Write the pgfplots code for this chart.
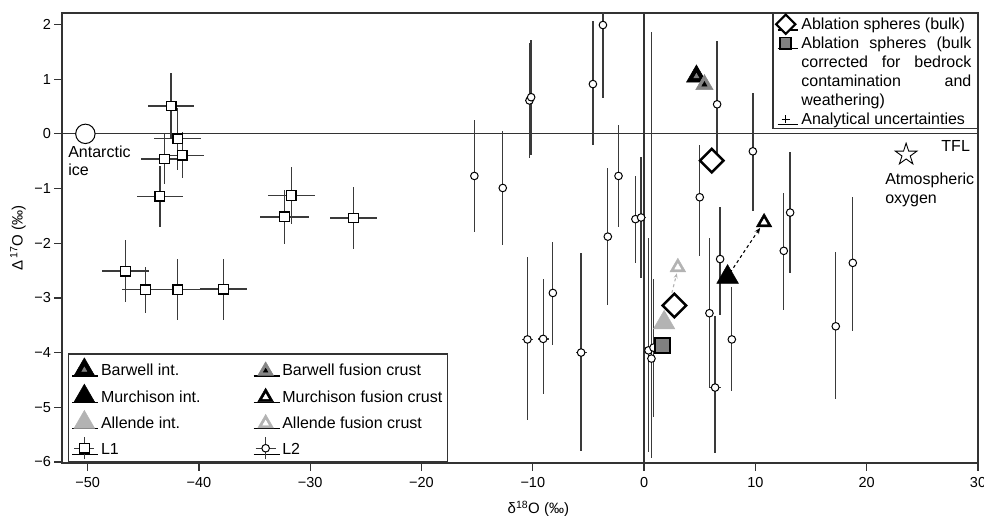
\documentclass[border=0pt]{standalone}
\usepackage{fontspec}
\setmainfont{Liberation Sans}
\usepackage{pgfplots}
\pgfplotsset{compat=1.18}
\usetikzlibrary{arrows.meta}

\definecolor{frame}{HTML}{333333}
\definecolor{bar}{HTML}{3A3A3A}
\definecolor{midgray}{HTML}{858585}
\definecolor{algray}{HTML}{B3B3B3}
\definecolor{sqgray}{HTML}{808080}

% strut: height, depth
\newcommand{\st}[2]{\rule[-#2]{0pt}{\dimexpr #1+#2\relax}}
% first legend column has a fixed width
\newcommand{\lc}[1]{\makebox[150pt][l]{#1}}

% outlined five-pointed star
\pgfdeclareplotmark{ostar}{%
  \pgfpathmoveto{\pgfpointpolar{90}{\pgfplotmarksize}}%
  \pgfpathlineto{\pgfpointpolar{126}{0.382\pgfplotmarksize}}%
  \pgfpathlineto{\pgfpointpolar{162}{\pgfplotmarksize}}%
  \pgfpathlineto{\pgfpointpolar{198}{0.382\pgfplotmarksize}}%
  \pgfpathlineto{\pgfpointpolar{234}{\pgfplotmarksize}}%
  \pgfpathlineto{\pgfpointpolar{270}{0.382\pgfplotmarksize}}%
  \pgfpathlineto{\pgfpointpolar{306}{\pgfplotmarksize}}%
  \pgfpathlineto{\pgfpointpolar{342}{0.382\pgfplotmarksize}}%
  \pgfpathlineto{\pgfpointpolar{18}{\pgfplotmarksize}}%
  \pgfpathlineto{\pgfpointpolar{54}{0.382\pgfplotmarksize}}%
  \pgfpathclose
  \pgfusepathqstroke
}

\pgfplotsset{
  base/.style={
    scale only axis, width=916pt, height=450pt,
    xmin=-52.3, xmax=30, ymin=-6.02, ymax=2.21,
    at={(0pt,0pt)}, anchor=south west,
  },
  ebars/.style={
    error bars/.cd, x dir=both, x explicit, y dir=both, y explicit,
    error mark=none, error bar style={bar, line width=1.3pt},
  },
}

\begin{document}
\begin{tikzpicture}
\begin{axis}[base,
  axis line style={frame, line width=1.3pt},
  tick align=outside, tick pos=left,
  major tick length=7.5pt,
  tick style={frame, line width=1.3pt},
  xtick={-50,-40,...,30},
  xticklabels={−50,−40,−30,−20,−10,0,10,20,30},
  ytick={-6,-5,...,2},
  yticklabels={−6,−5,−4,−3,−2,−1,0,1,2},
  tick label style={font=\fontsize{14.5}{17}\selectfont},
  xticklabel style={yshift=-3pt},
  xlabel={δ\textsuperscript{18}O (‰)},
  ylabel={Δ\,\textsuperscript{17}O (‰)},
  xlabel style={at={(axis description cs:0.52,-0.102)}, anchor=center, font=\fontsize{15}{18}\selectfont},
  ylabel style={at={(axis description cs:-0.048,0.5)}, anchor=center, font=\fontsize{15}{18}\selectfont},
  legend columns=2,
  legend cell align=left,
  legend style={at={(axis description cs:0.0066,0.002)}, anchor=south west,
    draw=frame, line width=1.3pt, inner xsep=3pt, inner ysep=0pt,
    cells={anchor=base west},
    nodes={inner xsep=2pt, inner ysep=0pt, text depth=, text height=, font=\fontsize{16}{19}\selectfont}},
]
% reference lines
\draw[frame, line width=1.3pt] (axis cs:-52.3,0) -- (axis cs:30,0);
\draw[frame, line width=1.3pt] (axis cs:0,-6.02) -- (axis cs:0,2.21);

% L1
\addplot[forget plot, only marks, mark=square*, mark size=4.8pt,
  mark options={fill=white, draw=black, line width=1.3pt}, ebars]
coordinates {
  (-42.5,0.51) +- (2.1,0.6)
  (-41.9,-0.09) +- (2.1,0.57)
  (-41.5,-0.39) +- (2.0,0.42)
  (-43.1,-0.46) +- (2.1,0.45)
  (-43.5,-1.14) +- (2.1,0.56)
  (-31.7,-1.13) +- (2.1,0.52)
  (-32.3,-1.52) +- (2.2,0.5)
  (-26.1,-1.54) +- (2.1,0.57)
  (-46.6,-2.51) +- (2.1,0.56)
  (-44.8,-2.85) +- (2.1,0.42)
  (-41.9,-2.85) +- (2.1,0.56)
  (-37.8,-2.84) +- (2.1,0.56)
};

% L2
\addplot[forget plot, only marks, mark=*, mark size=3.8pt,
  mark options={fill=white, draw=black, line width=1pt}, ebars]
coordinates {
  (-15.25,-0.77) += (0,1.03) -= (0,1.03)
  (-12.7,-0.99) += (0,1.05) -= (0,1.05)
  (-10.3,0.61) += (0,1.05) -= (0,1.05)
  (-10.15,0.67) += (0,1.05) -= (0,1.05)
  (-4.6,0.91) += (0,1.15) -= (0,1.12)
  (-3.7,1.99) += (0,1.33) -= (0,1.33)
  (-2.3,-0.77) += (0,0.94) -= (0,0.94)
  (-3.26,-1.88) += (0,1.25) -= (0,1.25)
  (-0.78,-1.56) += (0,0.78) -= (0,0.8)
  (-0.27,-1.53) += (0.4,1.1) -= (0.4,1.1)
  (-10.48,-3.76) += (0.5,1.5) -= (0.5,1.47)
  (-9.07,-3.75) += (0.5,1.1) -= (0.5,1.0)
  (-8.2,-2.91) += (0,0.94) -= (0,0.96)
  (-5.66,-4.0) += (0.5,1.82) -= (0.5,1.8)
  (0.66,-4.11) += (0,5.98) -= (0,1.81)
  (0.39,-3.96) += (0.5,2.05) -= (0.5,1.85)
  (0.84,-3.91) += (0,1.26) -= (0,1.26)
  (5.87,-3.28) += (0,1.37) -= (0,1.37)
  (6.38,-4.64) += (0.5,1.3) -= (0.5,1.2)
  (6.56,0.54) += (0,1.15) -= (0,1.15)
  (5.0,-1.16) += (0,0.95) -= (0,1.08)
  (6.83,-2.29) += (0,0.96) -= (0,1.02)
  (7.88,-3.76) += (0,0.96) -= (0,0.95)
  (9.77,-0.32) += (0,1.07) -= (0,1.1)
  (13.12,-1.44) += (0,1.1) -= (0,1.1)
  (12.55,-2.14) += (0,1.06) -= (0,1.08)
  (17.22,-3.52) += (0,1.35) -= (0,1.33)
  (18.75,-2.36) += (0,1.2) -= (0,1.25)
};

% Antarctic ice and atmospheric oxygen
\addplot[forget plot, only marks, mark=*, mark size=9.7pt,
  mark options={fill=white, draw=black, line width=1pt}] coordinates {(-50.2,0)};
\addplot[forget plot, only marks, mark=ostar, mark size=11.4pt,
  mark options={draw=black, line width=0.9pt}] coordinates {(23.54,-0.38)};

% arrows fusion crust
\draw[black, dashed, line width=1.1pt, -{Stealth[length=6pt,width=5pt]}]
  (axis cs:7.73,-2.54) -- (axis cs:10.42,-1.72);
\draw[algray, dashed, line width=1.1pt, -{Stealth[length=5pt,width=4pt]}]
  (axis cs:2.49,-2.91) -- (axis cs:2.94,-2.55);

% meteorites
\addplot[forget plot, only marks, mark=triangle*, mark size=11.5pt,
  mark options={fill=black, draw=black, line width=0.5pt}] coordinates {(4.7,1.05)};
\addplot[forget plot, only marks, mark=triangle*, mark size=3pt,
  mark options={fill=sqgray, draw=sqgray, line width=0.5pt}] coordinates {(4.7,1.05)};
\addplot[forget plot, only marks, mark=triangle*, mark size=10pt,
  mark options={fill=midgray, draw=midgray, line width=0.5pt}] coordinates {(5.42,0.9)};
\addplot[forget plot, only marks, mark=triangle*, mark size=3pt,
  mark options={fill=black, draw=black, line width=0.5pt}] coordinates {(5.42,0.9)};
\addplot[forget plot, only marks, mark=triangle*, mark size=12.5pt,
  mark options={fill=black, draw=black, line width=0.5pt}] coordinates {(7.5,-2.62)};
\addplot[forget plot, only marks, mark=triangle*, mark size=9pt,
  mark options={fill=black, draw=black, line width=0.5pt}] coordinates {(10.78,-1.62)};
\addplot[forget plot, only marks, mark=triangle*, mark size=3.5pt,
  mark options={fill=white, draw=white, line width=0.5pt}] coordinates {(10.78,-1.62)};
\addplot[forget plot, only marks, mark=triangle*, mark size=12.4pt,
  mark options={fill=algray, draw=algray, line width=0.5pt}] coordinates {(1.8,-3.455)};
\addplot[forget plot, only marks, mark=triangle*, mark size=9pt,
  mark options={fill=algray, draw=algray, line width=0.5pt}] coordinates {(3.03,-2.44)};
\addplot[forget plot, only marks, mark=triangle*, mark size=3.5pt,
  mark options={fill=white, draw=white, line width=0.5pt}] coordinates {(3.03,-2.44)};

% labels
\node[anchor=north west, inner sep=0pt, align=left, font=\fontsize{16}{18.4}\selectfont]
  at (axis cs:-51.75,-0.21) {Antarctic\\ice};
\node[anchor=north west, inner sep=0pt, align=left, font=\fontsize{16}{18.4}\selectfont]
  at (axis cs:21.65,-0.72) {Atmospheric\\oxygen};
\node[anchor=north east, inner sep=0pt, font=\fontsize{16}{18.4}\selectfont]
  at (axis cs:29.29,-0.11) {TFL};

% legend (bottom left)
\addlegendimage{legend image code/.code={
  \path (0pt,0pt) -- (26pt,0pt);
  \draw[black, fill=black, line width=0.5pt, mark=triangle*, mark size=12pt, only marks] plot coordinates {(12pt,6pt)};
  \draw[sqgray, fill=sqgray, line width=0.5pt, mark=triangle*, mark size=2.8pt, only marks] plot coordinates {(12pt,6pt)};}}
\addlegendentry{\lc{\st{22pt}{6.7pt}Barwell int.}}
\addlegendimage{legend image code/.code={
  \path (0pt,0pt) -- (26pt,0pt);
  \draw[midgray, fill=midgray, line width=0.5pt, mark=triangle*, mark size=9pt, only marks] plot coordinates {(12pt,5pt)};
  \draw[black, fill=black, line width=0.5pt, mark=triangle*, mark size=2.6pt, only marks] plot coordinates {(12pt,5pt)};}}
\addlegendentry{\st{22pt}{6.7pt}Barwell fusion crust}
\addlegendimage{legend image code/.code={
  \path (0pt,0pt) -- (26pt,0pt);
  \draw[black, fill=black, line width=0.5pt, mark=triangle*, mark size=12pt, only marks] plot coordinates {(12pt,6pt)};}}
\addlegendentry{\lc{\st{19.6pt}{6.7pt}Murchison int.}}
\addlegendimage{legend image code/.code={
  \path (0pt,0pt) -- (26pt,0pt);
  \draw[black, fill=black, line width=0.5pt, mark=triangle*, mark size=9pt, only marks] plot coordinates {(12pt,5pt)};
  \draw[white, fill=white, line width=0.5pt, mark=triangle*, mark size=3.2pt, only marks] plot coordinates {(12pt,5pt)};}}
\addlegendentry{\st{19.6pt}{6.7pt}Murchison fusion crust}
\addlegendimage{legend image code/.code={
  \path (0pt,0pt) -- (26pt,0pt);
  \draw[algray, fill=algray, line width=0.5pt, mark=triangle*, mark size=12pt, only marks] plot coordinates {(12pt,6pt)};}}
\addlegendentry{\lc{\st{19.6pt}{6.7pt}Allende int.}}
\addlegendimage{legend image code/.code={
  \path (0pt,0pt) -- (26pt,0pt);
  \draw[algray, fill=algray, line width=0.5pt, mark=triangle*, mark size=9pt, only marks] plot coordinates {(12pt,5pt)};
  \draw[white, fill=white, line width=0.5pt, mark=triangle*, mark size=3.2pt, only marks] plot coordinates {(12pt,5pt)};}}
\addlegendentry{\st{19.6pt}{6.7pt}Allende fusion crust}
\addlegendimage{legend image code/.code={
  \path (0pt,0pt) -- (26pt,0pt);
  \draw[bar, line width=1.3pt] (2pt,6.5pt) -- (22pt,6.5pt) (12pt,-4.5pt) -- (12pt,17.5pt);
  \draw[black, fill=white, line width=1.3pt, mark=square*, mark size=4.8pt, only marks] plot coordinates {(12pt,6.5pt)};}}
\addlegendentry{\lc{\st{19.6pt}{6.7pt}L1}}
\addlegendimage{legend image code/.code={
  \path (0pt,0pt) -- (26pt,0pt);
  \draw[bar, line width=1.3pt] (2pt,6.5pt) -- (22pt,6.5pt) (12pt,-4.5pt) -- (12pt,17.5pt);
  \draw[black, fill=white, line width=1pt, mark=*, mark size=3.8pt, only marks] plot coordinates {(12pt,6.5pt)};}}
\addlegendentry{\st{19.6pt}{6.7pt}L2}
\end{axis}

% ablation spheres, with their own legend (top right)
\begin{axis}[base, hide axis,
  legend cell align=left,
  legend style={at={(axis description cs:1,1)}, anchor=north east,
    draw=frame, line width=1.3pt, inner xsep=3pt, inner ysep=0pt,
    cells={anchor=base west},
    nodes={inner xsep=3pt, inner ysep=0pt, text depth=, text height=, font=\fontsize{16}{18.9}\selectfont}},
]
\addplot[forget plot, only marks, mark=square*, mark size=8.3pt,
  mark options={rotate=45, fill=white, draw=black, line width=2.4pt}]
coordinates {(2.72,-3.14) (6.08,-0.49)};
\addplot[forget plot, only marks, mark=square*, mark size=7.5pt,
  mark options={fill=sqgray, draw=black, line width=2pt}]
coordinates {(1.68,-3.88)};

\addlegendimage{legend image code/.code={
  \path (0pt,0pt) -- (20pt,0pt);
  \draw[black, fill=white, line width=2.2pt, mark=square*, mark size=6.8pt, mark options={rotate=45}, only marks] plot coordinates {(8pt,5.7pt)};}}
\addlegendentry{\st{16.3pt}{4.9pt}Ablation spheres (bulk)}
\addlegendimage{legend image code/.code={
  \path (0pt,0pt) -- (20pt,0pt);
  \draw[black, fill=sqgray, line width=1.8pt, mark=square*, mark size=5.6pt, only marks] plot coordinates {(8pt,5.7pt)};}}
\addlegendentry{\parbox[t]{170pt}{\st{14pt}{0pt}\makebox[170pt][s]{Ablation spheres (bulk}\\
  \makebox[170pt][s]{corrected for bedrock}\\
  \makebox[170pt][s]{contamination and}\\
  weathering)\st{0pt}{4.9pt}}}
\addlegendimage{legend image code/.code={
  \path (0pt,0pt) -- (20pt,0pt);
  \draw[black, line width=1.4pt, mark=+, mark size=4pt, only marks] plot coordinates {(8pt,5.2pt)};}}
\addlegendentry{\st{14pt}{4.3pt}Analytical uncertainties}
\end{axis}

\pgfresetboundingbox
\path[use as bounding box] (-62pt,-52pt) rectangle (922pt,463pt);
\end{tikzpicture}
\end{document}
